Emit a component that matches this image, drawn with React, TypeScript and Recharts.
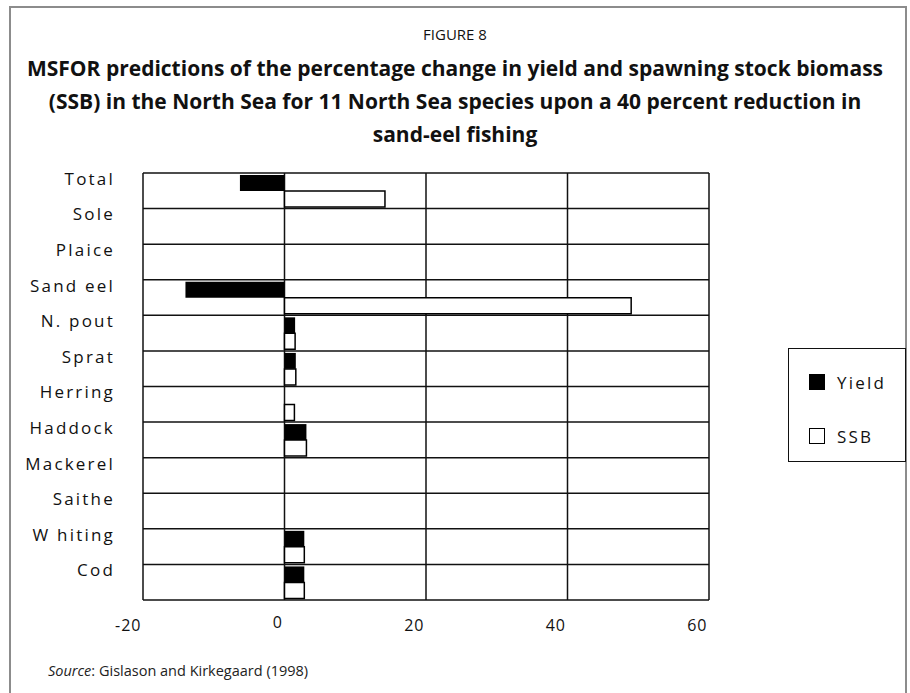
import { BarChart, Bar, XAxis, YAxis, CartesianGrid } from 'recharts';

const species = [
  'Total', 'Sole', 'Plaice', 'Sand eel', 'N. pout', 'Sprat',
  'Herring', 'Haddock', 'Mackerel', 'Saithe', 'W hiting', 'Cod',
];
const yieldChange = [-6.3, 0, 0, -14, 1.5, 1.6, 0, 3.1, 0, 0, 2.8, 2.8];
const ssbChange = [14.2, 0, 0, 49, 1.5, 1.6, 1.4, 3.1, 0, 0, 2.8, 2.8];
const xTicks = [-20, 0, 20, 40, 60];
const legendItems = [
  { label: 'Yield', filled: true },
  { label: 'SSB', filled: false },
];

const data = species.map((name, i) => ({
  name,
  yield: yieldChange[i],
  ssb: ssbChange[i],
}));

const FONT = '"Open Sans", "Noto Sans", sans-serif';

const SpeciesTick = ({ x = 0, y = 0, payload }: any) => (
  <text
    x={x - 20}
    y={y - 12}
    dy="0.36em"
    textAnchor="end"
    fontFamily={FONT}
    fontSize={17}
    letterSpacing={2.2}
    fill="#111"
  >
    {payload.value}
  </text>
);

const ValueTick = ({ x = 0, y = 0, payload }: any) => (
  <text
    x={x - 1.5}
    y={payload.value === 0 ? y + 14 : y + 17}
    dy="0.36em"
    textAnchor="end"
    fontFamily={FONT}
    fontSize={16}
    letterSpacing={1}
    fill="#111"
  >
    {payload.value}
  </text>
);

// legend drawn as a plain box, so it does not squeeze the plot area
const LegendBox = () => (
  <div
    style={{
      position: 'absolute',
      left: 788,
      top: 348,
      width: 118,
      height: 114,
      border: '1.5px solid #111',
      boxSizing: 'border-box',
      fontFamily: FONT,
      fontSize: 17,
      letterSpacing: 2.2,
      color: '#111',
    }}
  >
    {legendItems.map((item, i) => (
      <div
        key={item.label}
        style={{
          position: 'absolute',
          left: 20,
          top: 21 + i * 54,
          height: 24,
          display: 'flex',
          alignItems: 'center',
        }}
      >
        <span
          style={{
            width: 16,
            height: 16,
            boxSizing: 'border-box',
            background: item.filled ? '#000' : '#fff',
            border: '1.5px solid #000',
            marginRight: 12,
          }}
        />
        {item.label}
      </div>
    ))}
  </div>
);

export default function App() {
  return (
    <div style={{ position: 'absolute', left: 0, top: 0, width: 910, height: 693, background: '#fff', overflow: 'hidden' }}>
      <div
        style={{
          position: 'absolute',
          left: 9,
          top: 6,
          width: 898,
          height: 720,
          border: '2px solid #8c8c8c',
          boxSizing: 'border-box',
        }}
      />
      <div
        style={{
          position: 'absolute',
          left: 0,
          top: 24,
          width: 910,
          textAlign: 'center',
          fontFamily: FONT,
          fontSize: 15,
          color: '#111',
        }}
      >
        FIGURE 8
      </div>
      <div
        style={{
          position: 'absolute',
          left: 0,
          top: 52,
          width: 910,
          textAlign: 'center',
          fontFamily: FONT,
          fontSize: 21,
          fontWeight: 700,
          lineHeight: '33px',
          color: '#111',
        }}
      >
        MSFOR predictions of the percentage change in yield and spawning stock biomass
        <br />
        (SSB) in the North Sea for 11 North Sea species upon a 40 percent reduction in
        <br />
        sand-eel fishing
      </div>
      <div style={{ position: 'absolute', left: 0, top: 0 }}>
        <BarChart
          width={910}
          height={693}
          data={data}
          layout="vertical"
          margin={{ top: 173, right: 201, bottom: 0, left: 0 }}
          barGap={0}
          barSize={16}
        >
          <CartesianGrid
            stroke="#111"
            strokeWidth={1.5}
            horizontalCoordinatesGenerator={({ offset }: any) =>
              Array.from(
                { length: species.length + 1 },
                (_, i) => offset.top + (i * offset.height) / species.length
              )
            }
          />
          <XAxis
            type="number"
            domain={[-20, 60]}
            ticks={xTicks}
            axisLine={false}
            tickLine={false}
            height={93}
            tick={<ValueTick />}
            interval={0}
          />
          <YAxis
            type="category"
            dataKey="name"
            axisLine={false}
            tickLine={false}
            width={143}
            tick={<SpeciesTick />}
            interval={0}
          />
          <Bar dataKey="yield" name="Yield" fill="#000" isAnimationActive={false} />
          <Bar
            dataKey="ssb"
            name="SSB"
            fill="#fff"
            stroke="#000"
            strokeWidth={1.5}
            isAnimationActive={false}
          />
        </BarChart>
      </div>
      <LegendBox />
      <div
        style={{
          position: 'absolute',
          left: 48,
          top: 661,
          fontFamily: FONT,
          fontSize: 14.5,
          color: '#222',
        }}
      >
        <i>Source</i>: Gislason and Kirkegaard (1998)
      </div>
    </div>
  );
}
